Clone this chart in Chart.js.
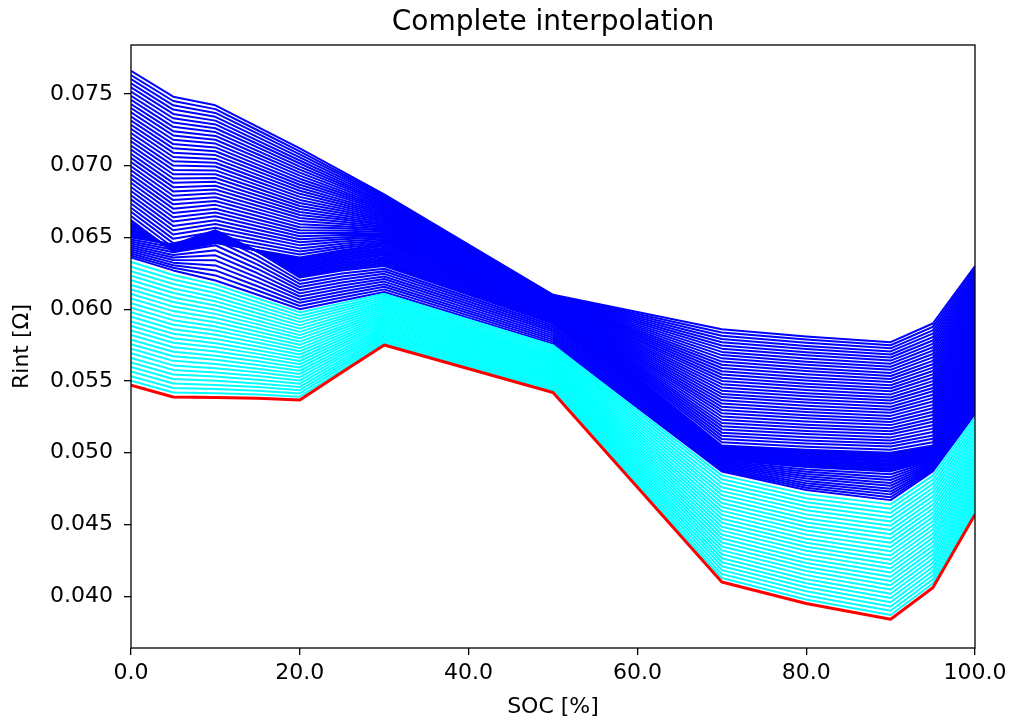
<!DOCTYPE html>
<html>
<head>
<meta charset="utf-8">
<script src="https://cdn.jsdelivr.net/npm/chart.js@4.4.1/dist/chart.umd.min.js"></script>
<style>
  html, body { margin: 0; padding: 0; background: #fff; }
</style>
</head>
<body>
<canvas id="rint-chart" width="1012" height="722"></canvas>
<script>
// SOC breakpoints of the resistance tables
const soc = [0, 5, 10, 15, 20, 25, 30, 50, 70, 80, 90, 95, 100];

// measured Rint curves [Ohm], from the lowest one up to the highest one
const rintRed  = [0.0547, 0.05388, 0.05385, 0.0538, 0.05368, 0.0556, 0.0575, 0.0542, 0.0410, 0.0395, 0.0384, 0.0406, 0.0457];
const rintBase = [0.0636, 0.0627, 0.0620, 0.0610, 0.0600, 0.0606, 0.0612, 0.0576, 0.0487, 0.0474, 0.0467, 0.0487, 0.0527];
const rintMidA = [0.0650, 0.0645, 0.0655, 0.0640, 0.0622, 0.0627, 0.0630, 0.0590, 0.0495, 0.0490, 0.0487, 0.0495, 0.0545];
const rintMidB = [0.0662, 0.0640, 0.0646, 0.0641, 0.0636, 0.0641, 0.0645, 0.0600, 0.0505, 0.0502, 0.0500, 0.0505, 0.0572];
const rintTop  = [0.0766, 0.0748, 0.0742, 0.0727, 0.0712, 0.0696, 0.0680, 0.0610, 0.0586, 0.0581, 0.0577, 0.0590, 0.0630];

// how many curves are interpolated between two neighbouring measured curves
const cyanSteps = 28;
const blueSteps = [10, 14, 36];

const xTicks = [0, 20, 40, 60, 80, 100];
const yTicks = [0.040, 0.045, 0.050, 0.055, 0.060, 0.065, 0.070, 0.075];

const FONT = "'DejaVu Sans', sans-serif";

blend = function(lo, hi, t){
  return lo.map((v, i) => v + (hi[i] - v) * t);
}

toPoints = function(vals){
  return vals.map((v, i) => ({ x: soc[i], y: v }));
}

lineSet = function(vals, colour, width){
  return {
    data: toPoints(vals),
    borderColor: colour,
    borderWidth: width,
    pointRadius: 0,
    tension: 0,
    fill: false
  };
}

// first dataset ends up on top, so red goes in first
const datasets = [lineSet(rintRed, '#ff0000', 3)];

for (let k = 1; k < cyanSteps; k++) {
  datasets.push(lineSet(blend(rintRed, rintBase, k / cyanSteps), '#00ffff', 2));
}

const blueCurves = [rintBase, rintMidA, rintMidB, rintTop];
for (let j = 0; j < blueSteps.length; j++) {
  const n = blueSteps[j];
  for (let k = 0; k < n; k++) {
    datasets.push(lineSet(blend(blueCurves[j], blueCurves[j + 1], k / n), '#0000ff', 2));
  }
}
datasets.push(lineSet(rintTop, '#0000ff', 2));

// box round the plot area, drawn over the lines
const frame = {
  id: 'frame',
  afterDatasetsDraw(chart){
    const a = chart.chartArea;
    const ctx = chart.ctx;
    ctx.save();
    ctx.strokeStyle = '#000';
    ctx.lineWidth = 1.3;
    ctx.strokeRect(a.left, a.top, a.right - a.left, a.bottom - a.top);
    ctx.restore();
  }
};

const tickGrid = {
  display: true,
  drawOnChartArea: false,
  drawTicks: true,
  tickLength: 7,
  color: '#000',
  lineWidth: 1.3
};

var ctx = document.getElementById('rint-chart').getContext('2d');
var rintChart = new Chart(ctx, {
  type: 'line',
  data: { datasets: datasets },
  plugins: [frame],
  options: {
    responsive: false,
    animation: false,
    devicePixelRatio: 1,
    layout: { padding: { top: 0, right: 37, bottom: 0, left: 0 } },
    elements: { line: { borderJoinStyle: 'round' } },
    scales: {
      x: {
        type: 'linear',
        min: 0,
        max: 100,
        afterFit: s => { s.height = 74; },
        afterBuildTicks: s => { s.ticks = xTicks.map(v => ({ value: v })); },
        grid: tickGrid,
        border: { display: false },
        ticks: {
          color: '#000',
          padding: 5,
          maxRotation: 0,
          font: { family: FONT, size: 22 },
          callback: v => v.toFixed(1)
        },
        title: {
          display: true,
          text: 'SOC [%]',
          color: '#000',
          padding: { top: 0, bottom: 2 },
          font: { family: FONT, size: 22 }
        }
      },
      y: {
        type: 'linear',
        min: 0.0364,
        max: 0.0784,
        afterFit: s => { s.width = 131; },
        afterBuildTicks: s => { s.ticks = yTicks.map(v => ({ value: v })); },
        grid: tickGrid,
        border: { display: false },
        ticks: {
          color: '#000',
          padding: 11,
          font: { family: FONT, size: 22 },
          callback: v => v.toFixed(3)
        },
        title: {
          display: true,
          text: 'Rint [Ω]',
          color: '#000',
          padding: { top: 9, bottom: 0 },
          font: { family: FONT, size: 22 }
        }
      }
    },
    plugins: {
      legend: { display: false },
      tooltip: { enabled: false },
      title: {
        display: true,
        fullSize: false,
        text: 'Complete interpolation',
        color: '#000',
        padding: { top: 6, bottom: 5.4 },
        font: { family: FONT, size: 28, weight: 'normal' }
      }
    }
  }
});
</script>
</body>
</html>
